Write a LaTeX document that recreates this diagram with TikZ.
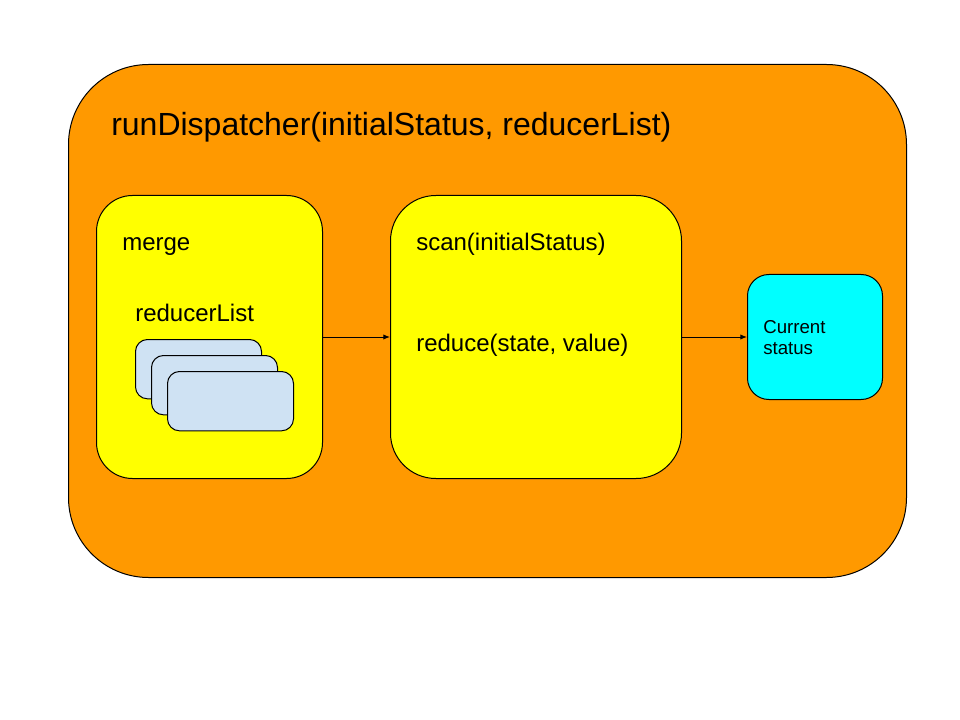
\documentclass[tikz,border=0pt]{standalone}
\usepackage{fontspec}
\setmainfont{Liberation Sans}
\usetikzlibrary{arrows.meta,positioning}
\definecolor{boxorange}{HTML}{FF9900}
\definecolor{boxyellow}{HTML}{FFFF00}
\definecolor{boxcyan}{HTML}{00FFFF}
\definecolor{cardblue}{HTML}{CFE2F3}

\begin{document}
\begin{tikzpicture}[x=0.75pt,y=-0.75pt,
  panel/.style={draw=black, line width=0.75pt, rounded corners=#1, inner sep=0pt, anchor=north west},
  card/.style={panel=9pt, fill=cardblue, minimum width=94.5pt, minimum height=44.5pt},
  label/.style={anchor=base west, inner sep=0pt, font=\fontsize{18}{21}\selectfont},
  flow/.style={line width=0.75pt, -{Latex[length=5pt,width=4pt]}}]
\useasboundingbox (0,0) rectangle (960,720);
% outer frame
\node[panel=60pt, fill=boxorange, minimum width=628.5pt, minimum height=384.75pt] (outer) at (68,64) {};
\node[label, font=\fontsize{24}{28}\selectfont] (title) at (111,136) {runDispatcher(initialStatus, reducerList)};
% inner boxes
\node[panel=27pt, fill=boxyellow, minimum width=169.5pt, minimum height=212.25pt] (merge) at (96,195) {};
\node[panel=34pt, fill=boxyellow, minimum width=218.25pt, minimum height=212.25pt] (scan) at (390,195) {};
\node[panel=16pt, fill=boxcyan, minimum width=101.25pt, minimum height=93.75pt] (status) at (747,274) {};
\node[label] (mergetxt) at (122,251) {merge};
\node[label] (listtxt) at (135,321) {reducerList};
\node[label] (scantxt) at (416,251) {scan(initialStatus)};
\node[label] (reducetxt) at (416,351) {reduce(state, value)};
\node[anchor=base west, inner sep=0pt, align=left, font=\fontsize{14}{15.5}\selectfont] (statustxt) at (763,354) {Current\\status};
% stacked reducers
\foreach \i/\d in {1/0,2/16,3/32} {
  \node[card] (card\i) at (135+\d,339+\d) {};
}
% connectors
\draw[flow] (merge) -- (scan);
\draw[flow] (scan) -- (status);
\end{tikzpicture}
\end{document}
